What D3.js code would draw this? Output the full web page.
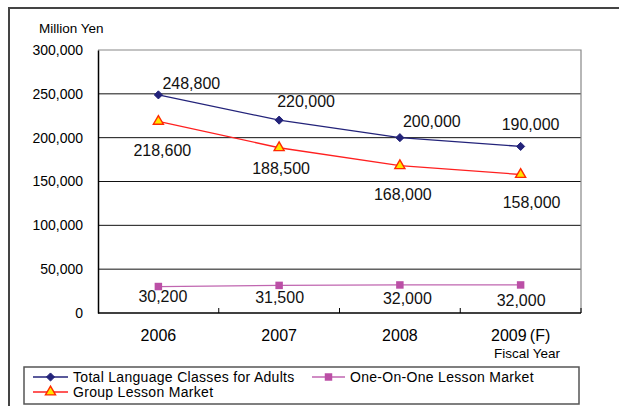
<!DOCTYPE html>
<html>
<head>
<meta charset="utf-8">
<script src="https://cdn.jsdelivr.net/npm/d3@7"></script>
<style>
  body { margin: 0; background: #fff; }
  svg { display: block; font-family: "Liberation Sans", Arial, sans-serif; }
</style>
</head>
<body>
<svg id="chart" width="619" height="406"></svg>
<script>
// chart data
const years = ["2006", "2007", "2008", "2009"];
const yearLabels = ["2006", "2007", "2008", "2009\u2009(F)"];
const totalValues = [248800, 220000, 200000, 190000];
const groupValues = [218600, 188500, 168000, 158000];
const oneOnOneValues = [30200, 31500, 32000, 32000];
const yTicks = [0, 50000, 100000, 150000, 200000, 250000, 300000];
const seriesNames = ["Total Language Classes for Adults", "Group Lesson Market", "One-On-One Lesson Market"];

// label offsets from each point (dx, dy to text start / baseline)
const totalOffsets = [[4, -6], [-2, -13], [3, -11], [-19, -16]];
const groupOffsets = [[-25, 35], [-27, 26], [-26, 34], [-18, 34]];
const oneOffsets = [[-20, 15], [-24, 18], [-17, 19], [-24, 21]];

const svg = d3.select("#chart");
const plotLeft = 98, plotRight = 581, plotTop = 50, plotBottom = 313;

const x = d3.scaleBand().domain(years).range([plotLeft, plotRight]);
const y = d3.scaleLinear().domain([0, 300000]).range([plotBottom, plotTop]);
const cx = d => x(d) + x.bandwidth() / 2;

// outer frame
svg.append("rect")
  .attr("x", 9).attr("y", 8).attr("width", 640).attr("height", 420)
  .attr("fill", "none").attr("stroke", "#444").attr("stroke-width", 2);

// gridlines
svg.append("g").selectAll("line")
  .data(yTicks.filter(d => d > 0 && d < 300000))
  .enter().append("line")
  .attr("x1", plotLeft).attr("x2", plotRight)
  .attr("y1", d => y(d)).attr("y2", d => y(d))
  .attr("stroke", "#111").attr("stroke-width", 1);

// top and right border (gray)
svg.append("path")
  .attr("d", "M" + plotLeft + "," + y(300000) + "H" + plotRight + "V" + plotBottom)
  .attr("fill", "none").attr("stroke", "#888").attr("stroke-width", 1.2);

// y axis
const yAxis = svg.append("g")
  .attr("transform", "translate(" + plotLeft + ",0)")
  .call(d3.axisLeft(y).tickValues(yTicks).tickSize(0).tickPadding(15).tickFormat(d3.format(",")));
yAxis.select(".domain").attr("stroke", "#000").attr("stroke-width", 1.5);
yAxis.selectAll("text").attr("font-size", 14).attr("fill", "#000").attr("font-family", "Liberation Sans, Arial, sans-serif");

// x axis
svg.append("line")
  .attr("x1", plotLeft).attr("x2", plotRight).attr("y1", plotBottom).attr("y2", plotBottom)
  .attr("stroke", "#000").attr("stroke-width", 1.5);
svg.append("g").selectAll("line")
  .data(years.slice(1).concat(["end"]))
  .enter().append("line")
  .attr("x1", d => d === "end" ? plotRight : x(d)).attr("x2", d => d === "end" ? plotRight : x(d))
  .attr("y1", plotBottom).attr("y2", plotBottom - 5)
  .attr("stroke", "#000");

svg.append("g").selectAll("text")
  .data(years)
  .enter().append("text")
  .attr("x", d => cx(d))
  .attr("y", 341)
  .attr("text-anchor", "middle")
  .attr("font-size", 16)
  .text((d, i) => yearLabels[i]);

svg.append("text")
  .attr("x", 527).attr("y", 358)
  .attr("text-anchor", "middle")
  .attr("font-size", 13.5)
  .text("Fiscal Year");

svg.append("text")
  .attr("x", 39).attr("y", 33)
  .attr("font-size", 13.5)
  .text("Million Yen");

// series
const line = d3.line().x((d, i) => cx(years[i])).y(d => y(d));

function drawSeries(values, color, offsets, marker) {
  const g = svg.append("g");
  g.append("path")
    .attr("d", line(values))
    .attr("fill", "none").attr("stroke", color).attr("stroke-width", 1.3);
  g.selectAll(".m")
    .data(values)
    .enter().append("path")
    .attr("transform", (d, i) => "translate(" + cx(years[i]) + "," + y(d) + ")")
    .call(marker);
  g.selectAll(".lab")
    .data(values)
    .enter().append("text")
    .attr("x", (d, i) => cx(years[i]) + offsets[i][0])
    .attr("y", (d, i) => y(d) + offsets[i][1])
    .attr("font-size", 16)
    .attr("fill", "#111")
    .text(d => d3.format(",")(d));
}

const diamond = sel => sel.attr("d", d3.symbol(d3.symbolDiamond2, 42)).attr("fill", "#23237a").attr("stroke", "#23237a");
const triangle = sel => sel.attr("d", d3.symbol(d3.symbolTriangle, 44)).attr("fill", "#ffe600").attr("stroke", "#ff2a00").attr("stroke-width", 1.4);
const square = sel => sel.attr("d", d3.symbol(d3.symbolSquare, 56)).attr("fill", "#bb4fa6");

drawSeries(oneOnOneValues, "#c066b0", oneOffsets, square);
drawSeries(groupValues, "#ff2020", groupOffsets, triangle);
drawSeries(totalValues, "#23237a", totalOffsets, diamond);

// legend
svg.append("rect")
  .attr("x", 24).attr("y", 367).attr("width", 555).attr("height", 37)
  .attr("fill", "#fff").attr("stroke", "#555").attr("stroke-width", 1.5);

const legendItems = [
  { name: seriesNames[0], color: "#23237a", marker: diamond, x0: 33, x1: 68, y: 377 },
  { name: seriesNames[1], color: "#ff2020", marker: triangle, x0: 33, x1: 68, y: 392 },
  { name: seriesNames[2], color: "#c066b0", marker: square, x0: 312, x1: 345, y: 377 }
];
const lg = svg.append("g").selectAll("g").data(legendItems).enter().append("g");
lg.append("line")
  .attr("x1", d => d.x0).attr("x2", d => d.x1)
  .attr("y1", d => d.y).attr("y2", d => d.y)
  .attr("stroke", d => d.color).attr("stroke-width", 1.3);
lg.each(function (d) {
  d3.select(this).append("path")
    .attr("transform", "translate(" + (d.x0 + d.x1) / 2 + "," + d.y + ")")
    .call(d.marker);
});
lg.append("text")
  .attr("x", d => d.x1 + 5)
  .attr("y", d => d.y + 5)
  .attr("font-size", 14)
  .attr("letter-spacing", 0.3)
  .text(d => d.name);
</script>
</body>
</html>
